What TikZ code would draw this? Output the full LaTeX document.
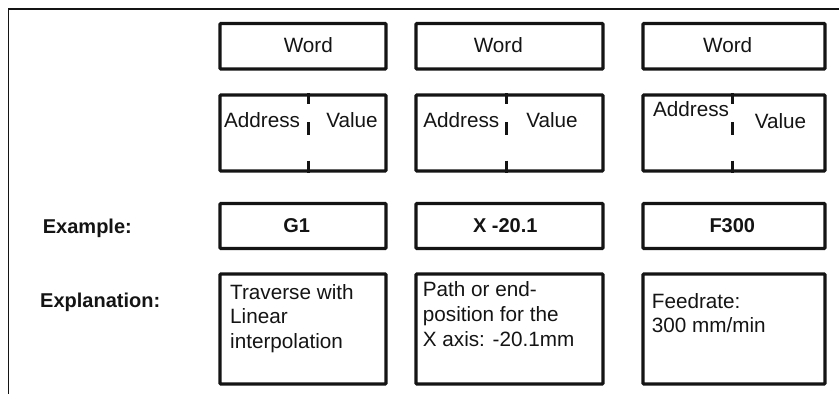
\documentclass[tikz,border=0pt]{standalone}
\usepackage{fontspec}
\setmainfont{Liberation Sans}
\usetikzlibrary{calc}
\definecolor{ink}{HTML}{141414}
\begin{document}
\begin{tikzpicture}[x=1pt,y=-1pt,
  box/.style={draw=ink,line width=3.3pt,rectangle,inner sep=0pt,rounded corners=1pt},
  divider/.style={draw=ink,line width=3.3pt},
  frameline/.style={draw=ink,line width=1.6pt},
  txt/.style={inner sep=0pt,anchor=base,text=ink,font=\fontsize{20.7}{24.5}\selectfont},
  ltxt/.style={txt,anchor=base west},
  btxt/.style={inner sep=0pt,anchor=base,text=ink,font=\fontsize{20}{24}\selectfont\bfseries},
  lbl/.style={btxt,anchor=base west}]
\useasboundingbox (0,0) rectangle (839,394);
% frame
\coordinate (fbl) at (8.5,394);
\coordinate (ftl) at (8.5,9);
\coordinate (ftr) at (839,9);
\draw[frameline] (fbl) -- (ftl) -- (ftr);
% row 1: Word
\node[box,minimum width=166pt,minimum height=45.5pt] (w1) at (303,46.25) {};
\node[box,minimum width=187pt,minimum height=45.5pt] (w2) at (509.5,46.25) {};
\node[box,minimum width=182pt,minimum height=45.5pt] (w3) at (734,46.25) {};
\node[txt] (w1t) at (308.3,52.5) {Word};
\node[txt] (w2t) at (498.3,52.5) {Word};
\node[txt] (w3t) at (727.7,52.5) {Word};
% row 2: Address / Value
\node[box,minimum width=166pt,minimum height=76pt] (a1) at (303,133) {};
\node[box,minimum width=187pt,minimum height=76pt] (a2) at (509.5,133) {};
\node[box,minimum width=182pt,minimum height=76pt] (a3) at (734,133) {};
\foreach \b/\dx in {a1/90,a2/92,a3/91}{
  \draw[divider] ($(\b.north west)+(\dx,0)$) -- ($(\b.north west)+(\dx,11)$);
  \draw[divider] ($(\b.north west)+(\dx,29)$) -- ($(\b.north west)+(\dx,42)$);
  \draw[divider] ($(\b.south west)+(\dx,-12)$) -- ($(\b.south west)+(\dx,0)$);
}
\node[txt] (a1a) at (262,127.7) {Address};
\node[txt] (a1v) at (352,127.7) {Value};
\node[txt] (a2a) at (461.3,127.7) {Address};
\node[txt] (a2v) at (552,127.7) {Value};
\node[txt] (a3a) at (691,116.7) {Address};
\node[txt] (a3v) at (780.5,128.3) {Value};
% row 3: Example
\node[lbl] (exl) at (42.7,233) {Example:};
\node[box,minimum width=166pt,minimum height=45pt] (e1) at (303,226) {};
\node[box,minimum width=187pt,minimum height=45pt] (e2) at (509.5,226) {};
\node[box,minimum width=182pt,minimum height=45pt] (e3) at (734,226) {};
\node[btxt] (e1t) at (296.7,232) {G1};
\node[btxt] (e2t) at (505.3,232) {X -20.1};
\node[btxt] (e3t) at (732.3,232) {F300};
% row 4: Explanation
\node[lbl] (xpl) at (40,307) {Explanation:};
\node[box,minimum width=166pt,minimum height=110pt] (x1) at (303,329) {};
\node[box,minimum width=187pt,minimum height=110pt] (x2) at (509.5,329) {};
\node[box,minimum width=182pt,minimum height=110pt] (x3) at (734,329) {};
\node[ltxt] (x1a) at (230,299) {Traverse with};
\node[ltxt] (x1b) at (230,323.5) {Linear};
\node[ltxt] (x1c) at (230,348) {interpolation};
\node[ltxt] (x2a) at (422.7,296.7) {Path or end-};
\node[ltxt] (x2b) at (422.7,321.5) {position for the};
\node[ltxt] (x2c) at (422.7,346.5) {X axis: -20.1mm};
\node[ltxt] (x3a) at (651.7,308) {Feedrate:};
\node[ltxt] (x3b) at (651.7,332.5) {300 mm/min};
\end{tikzpicture}
\end{document}
